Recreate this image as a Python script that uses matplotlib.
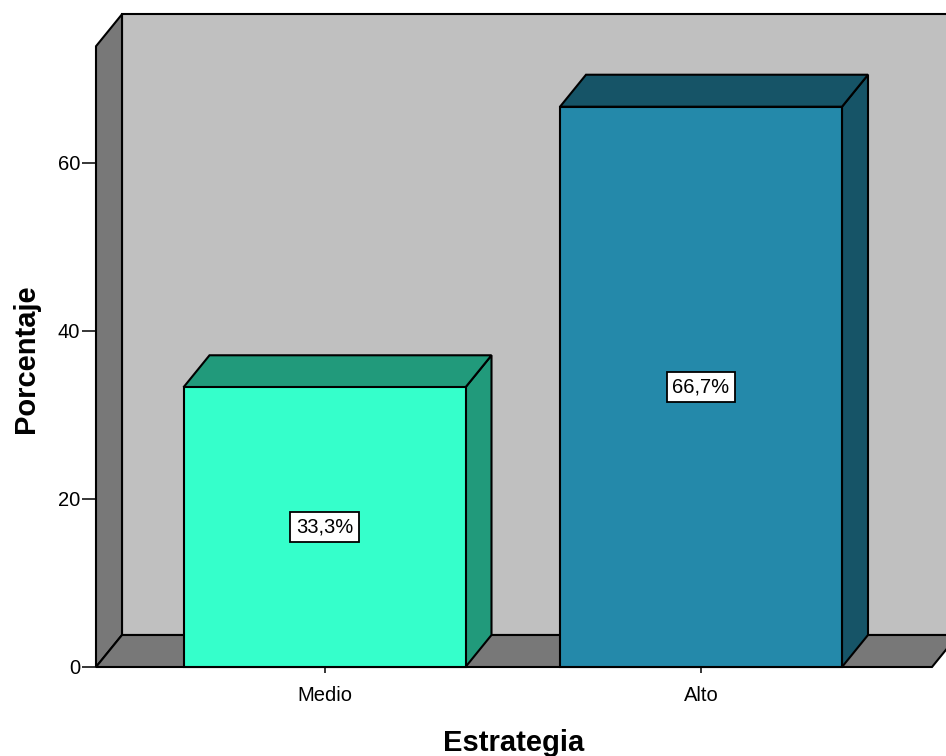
import matplotlib
matplotlib.use("Agg")
import matplotlib.pyplot as plt
from matplotlib.patches import Polygon, Rectangle

# Data
categories = ["Medio", "Alto"]
percentages = [33.3, 66.7]
value_labels = ["33,3%", "66,7%"]
y_ticks = [0, 20, 40, 60]

# Colours: front face, shaded top/side faces
front_colors = ["#35FFCB", "#2489AA"]
shade_colors = ["#219A7B", "#165467"]
wall_back = "#C0C0C0"
wall_side = "#787878"

plt.rcParams["font.family"] = ["Liberation Sans", "DejaVu Sans"]

W, H = 946, 756
fig = plt.figure(figsize=(W / 100, H / 100), dpi=100)

# Front plane of the 3D box, in pixel placement
left_px, bottom_px, right_px, top_px = 96, 667, 946, 10
ax = fig.add_axes([left_px / W, (H - bottom_px) / H,
                   (right_px - left_px) / W, (bottom_px - top_px) / H])

px_per_x = 376.5
px_per_y = 8.4
x_center0 = 324.5
xmin = (left_px - x_center0) / px_per_x
xmax = (right_px - x_center0) / px_per_x
ymax = (bottom_px - top_px) / px_per_y
ax.set_xlim(xmin, xmax)
ax.set_ylim(0, ymax)

# Depth offset of the 3D effect
dx = 26 / px_per_x
dy = 32 / px_per_y
wall_top = 73.9
floor_right = (932 - x_center0) / px_per_x
far_right = xmax + 0.2
lw = 1.5

def poly(pts, fc):
    p = Polygon(pts, closed=True, facecolor=fc, edgecolor="black",
                linewidth=lw, joinstyle="miter", clip_on=False)
    ax.add_patch(p)

# Back wall
poly([(xmin + dx, dy), (far_right, dy), (far_right, wall_top + dy),
      (xmin + dx, wall_top + dy)], wall_back)
# Left side wall
poly([(xmin, 0), (xmin + dx, dy), (xmin + dx, wall_top + dy),
      (xmin, wall_top)], wall_side)
# Floor
poly([(xmin, 0), (floor_right, 0), (floor_right + dx, dy),
      (xmin + dx, dy)], wall_side)

# Bars
bar_w = 282 / px_per_x
for i, (v, fc, sc, lab) in enumerate(zip(percentages, front_colors,
                                        shade_colors, value_labels)):
    xl, xr = i - bar_w / 2, i + bar_w / 2
    poly([(xr, 0), (xr + dx, dy), (xr + dx, v + dy), (xr, v)], sc)
    poly([(xl, v), (xr, v), (xr + dx, v + dy), (xl + dx, v + dy)], sc)
    ax.add_patch(Rectangle((xl, 0), bar_w, v, facecolor=fc,
                           edgecolor="black", linewidth=lw, clip_on=False))
    ax.text(i, v / 2, lab, ha="center", va="center", fontsize=14.5,
            color="black",
            bbox=dict(boxstyle="square,pad=0.27", facecolor="white",
                      edgecolor="black", linewidth=1.3))

# Axes decoration
for s in ax.spines.values():
    s.set_visible(False)
ax.set_facecolor("none")
ax.set_yticks(y_ticks)
ax.set_yticklabels([str(t) for t in y_ticks])
ax.set_xticks(range(len(categories)))
ax.set_xticklabels(categories)
ax.tick_params(axis="y", length=10, width=1.1, pad=1.5, labelsize=14.5)
ax.tick_params(axis="x", length=4.3, width=1.1, pad=9.5, labelsize=14.5)

ax.set_xlabel("Estrategia", fontsize=21, fontweight="bold", va="center")
ax.set_ylabel("Porcentaje", fontsize=21, fontweight="bold", va="center")
ax.xaxis.set_label_coords((514 - left_px) / (right_px - left_px),
                          (bottom_px - 743) / (bottom_px - top_px))
ax.yaxis.set_label_coords((26 - left_px) / (right_px - left_px),
                          (bottom_px - 359) / (bottom_px - top_px))

fig.savefig("out.png", dpi=100)
